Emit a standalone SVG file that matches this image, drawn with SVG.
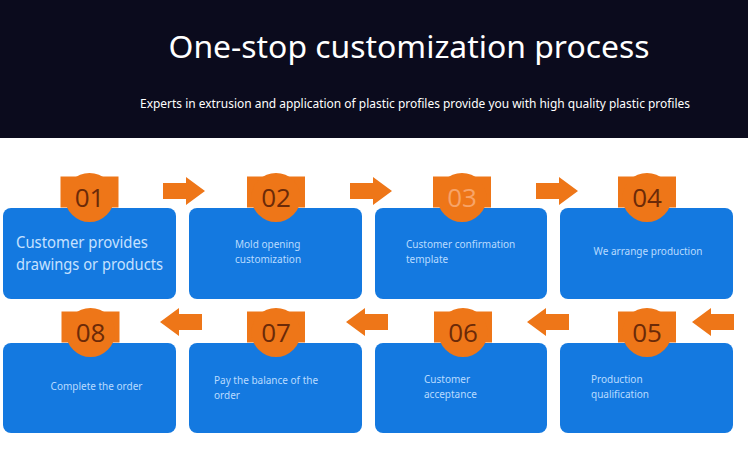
<svg xmlns="http://www.w3.org/2000/svg" width="748" height="453" viewBox="0 0 748 453">
<defs>
<style>
.box{fill:#1479e0}
.orng{fill:#ee7618}
.num{font-family:"Open Sans","Noto Sans",sans-serif;font-size:26px;fill:#6b2a08;text-anchor:middle}
.lbl{font-family:"Noto Sans","Open Sans",sans-serif;font-size:10px;fill:#b9dbff}
.big{font-family:"Noto Sans","Open Sans",sans-serif;font-size:16px;fill:#c6e1ff}
.hdr{font-family:"Noto Sans","Open Sans",sans-serif;fill:#ffffff}
</style>
<g id="badge">
<rect class="orng" x="-29" y="-21" width="58" height="31"/>
<circle class="orng" cx="0" cy="0" r="24.5"/>
</g>
<path id="arR" class="orng" d="M0,-8 L23,-8 L23,-14 L42,0 L23,14 L23,8 L0,8 Z"/>
<path id="arL" class="orng" d="M42,-8 L19,-8 L19,-14 L0,0 L19,14 L19,8 L42,8 Z"/>
</defs>
<rect x="0" y="0" width="748" height="453" fill="#ffffff"/>
<rect x="0" y="0" width="748" height="138" fill="#0b0b1d"/>
<text class="hdr" x="409" y="58" font-size="31" text-anchor="middle" textLength="481" lengthAdjust="spacingAndGlyphs">One-stop customization process</text>
<text class="hdr" x="415" y="108" font-size="12.5" text-anchor="middle" textLength="550" lengthAdjust="spacingAndGlyphs">Experts in extrusion and application of plastic profiles provide you with high quality plastic profiles</text>

<g id="connectors">
<use href="#arR" x="163" y="191"/>
<use href="#arR" x="350" y="191"/>
<use href="#arR" x="536" y="191"/>
<use href="#arL" x="160" y="322"/>
<use href="#arL" x="346" y="322"/>
<use href="#arL" x="527" y="322"/>
<use href="#arL" x="692" y="322"/>
</g>

<g id="node01">
<rect class="box" x="3" y="208" width="173" height="91" rx="8"/>
<use href="#badge" x="89.5" y="197.5"/>
<text class="num" x="89.5" y="207">01</text>
<text class="big" x="16" y="248" textLength="132" lengthAdjust="spacingAndGlyphs">Customer provides</text>
<text class="big" x="16" y="270" textLength="147" lengthAdjust="spacingAndGlyphs">drawings or products</text>
</g>
<g id="node02">
<rect class="box" x="189" y="208" width="173" height="91" rx="8"/>
<use href="#badge" x="276" y="197.5"/>
<text class="num" x="276" y="207">02</text>
<text class="lbl" x="235" y="248">Mold opening</text>
<text class="lbl" x="235" y="263">customization</text>
</g>
<g id="node03">
<rect class="box" x="375" y="208" width="172" height="91" rx="8"/>
<use href="#badge" x="462" y="197.5"/>
<text class="num" x="462" y="207" style="fill:#f7a469">03</text>
<text class="lbl" x="406" y="248">Customer confirmation</text>
<text class="lbl" x="406" y="263">template</text>
</g>
<g id="node04">
<rect class="box" x="560" y="208" width="173" height="91" rx="8"/>
<use href="#badge" x="647" y="197.5"/>
<text class="num" x="647" y="207">04</text>
<text class="lbl" x="648" y="255" text-anchor="middle">We arrange production</text>
</g>

<g id="node05">
<rect class="box" x="560" y="343" width="173" height="90" rx="8"/>
<use href="#badge" x="647" y="332.5"/>
<text class="num" x="647" y="342">05</text>
<text class="lbl" x="591" y="383">Production</text>
<text class="lbl" x="591" y="398">qualification</text>
</g>
<g id="node06">
<rect class="box" x="375" y="343" width="172" height="90" rx="8"/>
<use href="#badge" x="463" y="332.5"/>
<text class="num" x="463" y="342">06</text>
<text class="lbl" x="424" y="383">Customer</text>
<text class="lbl" x="424" y="398">acceptance</text>
</g>
<g id="node07">
<rect class="box" x="189" y="343" width="173" height="90" rx="8"/>
<use href="#badge" x="276" y="332.5"/>
<text class="num" x="276" y="342">07</text>
<text class="lbl" x="214" y="384">Pay the balance of the</text>
<text class="lbl" x="214" y="399">order</text>
</g>
<g id="node08">
<rect class="box" x="3" y="343" width="173" height="90" rx="8"/>
<use href="#badge" x="90.5" y="332.5"/>
<text class="num" x="90.5" y="342">08</text>
<text class="lbl" x="96.5" y="390" text-anchor="middle">Complete the order</text>
</g>
</svg>
